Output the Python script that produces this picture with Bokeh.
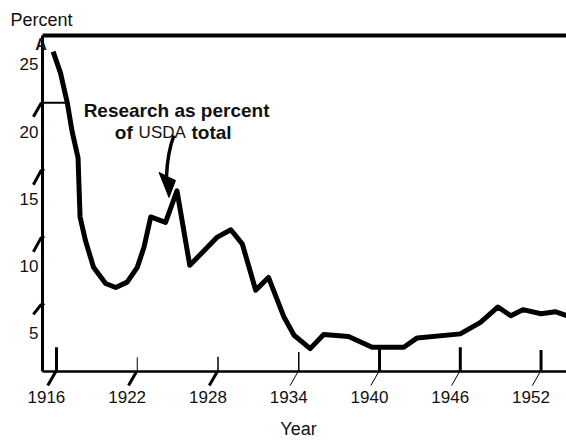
from bokeh.plotting import figure
from bokeh.models import Range1d, FixedTicker, LinearAxis, ColumnDataSource
from bokeh.embed import file_html
from bokeh.resources import INLINE
from bokeh.core.properties import value

# ---- data ----
years = [1915.75, 1916.3, 1916.8, 1917.15, 1917.6, 1917.75, 1918.15, 1918.75, 1919.65,
         1920.4, 1921.25, 1922.0, 1922.5, 1923.0, 1924.1, 1924.95, 1925.9, 1927.95,
         1928.95, 1929.8, 1930.8, 1931.75, 1932.9, 1933.65, 1934.85, 1935.85, 1937.7,
         1939.45, 1941.8, 1942.8, 1946.0, 1947.5, 1948.8, 1949.75, 1950.65, 1952.0,
         1953.05, 1953.9]
percent = [23.8, 22.2, 20.0, 17.9, 15.9, 11.5, 9.75, 7.75, 6.55,
           6.25, 6.65, 7.75, 9.25, 11.5, 11.1, 13.45, 7.9, 10.0,
           10.55, 9.5, 6.05, 7.0, 4.05, 2.7, 1.7, 2.75, 2.6,
           1.8, 1.8, 2.5, 2.8, 3.65, 4.8, 4.15, 4.6, 4.3,
           4.45, 4.15]

x_tick_years = [1916, 1922, 1928, 1934, 1940, 1946, 1952]
x_tick_labels = ["1916", "1922", "1928", "1934", "1940", "1946", "1952"]
y_tick_values = [5, 10, 15, 20, 25]
y_tick_labels = ["5", "10", "15", "20", "25"]

# ---- styling ----
X_LABEL_SHIFT = -0.75     # printed year labels sit left of their ticks
Y_LABEL_SHIFT = -2.15     # printed percent labels sit below their ticks
FONT = "Liberation Sans"
TXT = "#111111"

AXIS_X = 1914.96          # where the vertical axis line is drawn
AXIS_Y = 0                # where the horizontal axis line is drawn
TOP_Y = 25

x_in_heights = [1.8, 1.05, 1.1, 1.45, 1.7, 1.8, 1.6]
x_in_widths = [3, 1, 1.5, 1.5, 3, 3, 3]
x_slash_widths = [3, 3, 3, 1, 1, 1, 1]
y_in_lengths = [0.2, 0.2, 0.2, 1.93, 0.0]
y_in_widths = [1, 1, 1, 2, 0.1]
y_slash_drops = [0.75, 1.1, 1.1, 1.05]

X0, X1 = 1914.068, 1953.89
Y0, Y1 = -1.414, 25.372

p = figure(width=566, height=444, output_backend="svg", toolbar_location=None,
           x_range=Range1d(X0, X1), y_range=Range1d(Y0, Y1),
           x_axis_type=None, y_axis_type=None,
           min_border_left=30, min_border_right=0, min_border_top=30, min_border_bottom=54,
           outline_line_color=None, background_fill_color="white",
           border_fill_color="white")

p.title.text = "Percent"
p.title.align = "left"
p.title.offset = -20
p.title.text_font = FONT
p.title.text_font_size = "18px"
p.title.text_font_style = "normal"
p.title.text_color = TXT
p.title.standoff = 2

# bottom axis (labels only; line drawn at y=0 below)
xt = [y + X_LABEL_SHIFT for y in x_tick_years]
xaxis = LinearAxis(ticker=FixedTicker(ticks=xt),
                   major_label_overrides={t: l for t, l in zip(xt, x_tick_labels)},
                   axis_line_color=None,
                   major_tick_in=0, major_tick_out=0,
                   minor_tick_in=0, minor_tick_out=0,
                   major_label_standoff=0,
                   major_label_text_font=FONT, major_label_text_font_size="17px",
                   major_label_text_color=TXT,
                   axis_label="Year", axis_label_standoff=13,
                   axis_label_text_font=FONT, axis_label_text_font_size="18px",
                   axis_label_text_font_style="normal", axis_label_text_color=TXT)
p.add_layout(xaxis, "below")

# left axis (labels only)
yt = [v + Y_LABEL_SHIFT for v in y_tick_values]
yaxis = LinearAxis(ticker=FixedTicker(ticks=yt),
                   major_label_overrides={t: l for t, l in zip(yt, y_tick_labels)},
                   axis_line_color=None,
                   major_tick_in=0, major_tick_out=0,
                   minor_tick_in=0, minor_tick_out=0,
                   major_label_standoff=-8,
                   major_label_text_font=FONT, major_label_text_font_size="17px",
                   major_label_text_color=TXT)
p.add_layout(yaxis, "left")

# axis lines and top border
p.segment(x0=[AXIS_X, AXIS_X, AXIS_X], y0=[AXIS_Y, AXIS_Y, TOP_Y],
          x1=[X1 + 1, AXIS_X, X1 + 1], y1=[AXIS_Y, TOP_Y, TOP_Y],
          line_width=[2.5, 3, 4], line_color="black")

# inner tick marks on x axis
p.segment(x0=x_tick_years, y0=[AXIS_Y] * len(x_tick_years), x1=x_tick_years, y1=x_in_heights,
          line_width=x_in_widths, line_color="black")

# inner tick marks on y axis
p.segment(x0=[AXIS_X] * len(y_tick_values), y0=y_tick_values,
          x1=[AXIS_X + l for l in y_in_lengths], y1=y_tick_values,
          line_width=y_in_widths, line_color="black")

# slanted outer tick strokes
p.segment(x0=[yr - 0.05 for yr in x_tick_years], y0=[AXIS_Y] * len(x_tick_years),
          x1=[yr - 0.65 for yr in x_tick_years], y1=[AXIS_Y - 1.05] * len(x_tick_years),
          line_width=x_slash_widths, line_color="black")
p.segment(x0=[AXIS_X - 0.08] * 4, y0=y_tick_values[:4],
          x1=[AXIS_X - 0.68] * 4, y1=[v - d for v, d in zip(y_tick_values[:4], y_slash_drops)],
          line_width=3, line_color="black")

# main series
src = ColumnDataSource(data=dict(year=years, pct=percent))
p.line("year", "pct", source=src, line_width=5, line_color="black", line_join="round")

# annotation arrow
p.quadratic(x0=[1924.72], y0=[17.56], x1=[1924.17], y1=[14.51], cx=[1924.25], cy=[16.29],
            line_width=3.5, line_color="black")
p.patch(x=[1923.62, 1924.84, 1924.36], y=[14.81, 14.21, 12.95], fill_color="black",
        line_color="black", line_width=1)

# texts inside the frame
p.text(x=[1924.92], y=[19.42], text=["Research as percent"], text_align="center",
       text_baseline="alphabetic", text_font=value(FONT), text_font_size="19px",
       text_font_style="bold", text_color=TXT)
p.text(x=[1920.33, 1926.03], y=[17.80, 17.80], text=["of", "total"], text_align="left",
       text_baseline="alphabetic", text_font=value(FONT), text_font_size="19px",
       text_font_style="bold", text_color=TXT)
p.text(x=[1922.10], y=[17.80], text=["USDA"], text_align="left",
       text_baseline="alphabetic", text_font=value(FONT), text_font_size="17px",
       text_color=TXT)
p.text(x=[1914.85], y=[24.33], text=["A"], text_align="center",
       text_baseline="middle", text_font=value(FONT), text_font_size="16px",
       text_font_style="bold", text_color=TXT)

open("out.html", "w").write(file_html(p, INLINE))
